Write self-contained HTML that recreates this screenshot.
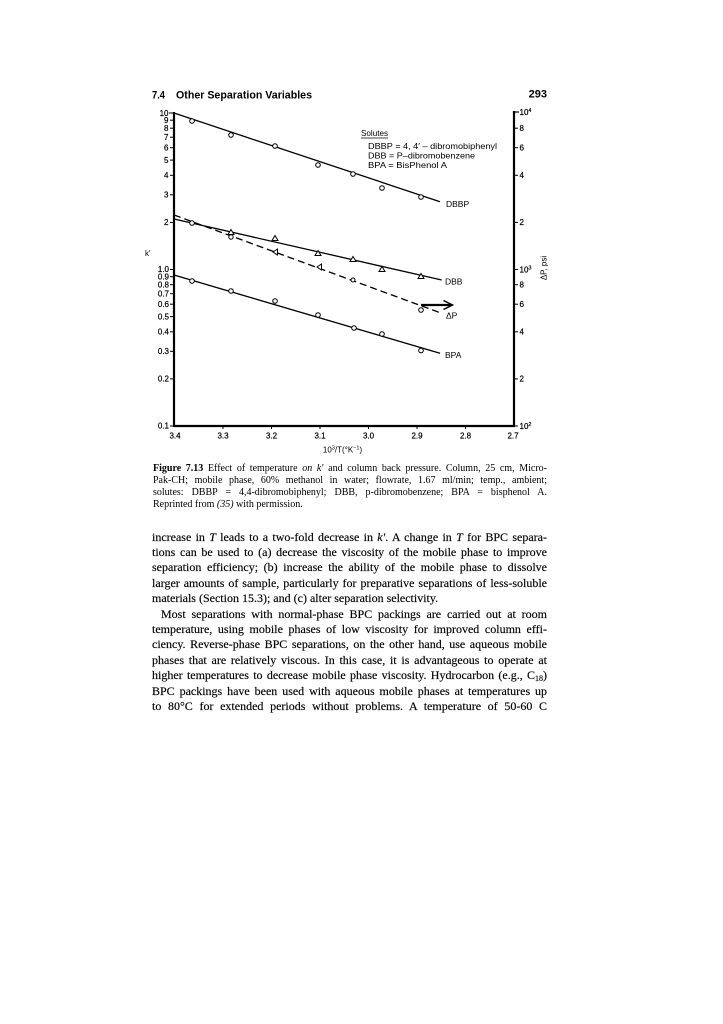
<!DOCTYPE html>
<html>
<head>
<meta charset="utf-8">
<style>
  html,body{margin:0;padding:0;background:#fff;}
  body{width:723px;height:1024px;position:relative;overflow:hidden;}
  .cap{position:absolute;left:153px;width:394px;font-family:"Liberation Serif","Times New Roman",serif;font-size:10px;line-height:12px;color:#000;}
  .cap div{text-align:justify;text-align-last:justify;height:12px;overflow:hidden;white-space:normal;}
  .cap div.last{text-align-last:left;}
  .body{position:absolute;left:152px;width:395px;top:529.5px;font-family:"Liberation Serif","Times New Roman",serif;font-size:12px;line-height:15.43px;color:#000;-webkit-text-stroke:0.15px #000;}
  .body div{text-align:justify;text-align-last:justify;height:15.43px;overflow:hidden;}
  .body div.last{text-align-last:left;}
  .body div.ind{text-indent:9px;}
  sub{font-size:8px;line-height:0;vertical-align:-2px;}
</style>
</head>
<body>
<svg width="723" height="470" style="position:absolute;left:0;top:0" font-family="Liberation Sans, Arial, sans-serif" fill="#000">
  <!-- header -->
  <text x="152" y="98.5" font-size="10.8" font-weight="bold" textLength="13" lengthAdjust="spacingAndGlyphs">7.4</text>
  <text x="176" y="98.5" font-size="10.8" font-weight="bold" textLength="136" lengthAdjust="spacingAndGlyphs">Other Separation Variables</text>
  <text x="547" y="97.5" font-size="11" font-weight="bold" text-anchor="end">293</text>

  <!-- axes -->
  <g stroke="#000" fill="none">
    <line x1="174" y1="112" x2="174" y2="427" stroke-width="2.2"/>
    <line x1="173" y1="426" x2="515" y2="426" stroke-width="2.2"/>
    <line x1="514" y1="111" x2="514" y2="427" stroke-width="2.2"/>
    <line x1="514" y1="112" x2="519" y2="112" stroke-width="1.2"/>
    <!-- left ticks -->
    <g stroke-width="1">
      <line x1="169" y1="113" x2="174" y2="113"/>
      <line x1="170" y1="120.2" x2="174" y2="120.2"/>
      <line x1="170" y1="128.2" x2="174" y2="128.2"/>
      <line x1="170" y1="137.2" x2="174" y2="137.2"/>
      <line x1="170" y1="147.7" x2="174" y2="147.7"/>
      <line x1="170" y1="160.1" x2="174" y2="160.1"/>
      <line x1="170" y1="175.3" x2="174" y2="175.3"/>
      <line x1="170" y1="194.8" x2="174" y2="194.8"/>
      <line x1="170" y1="222.4" x2="174" y2="222.4"/>
      <line x1="170" y1="269.5" x2="174" y2="269.5"/>
      <line x1="170" y1="276.7" x2="174" y2="276.7"/>
      <line x1="170" y1="284.7" x2="174" y2="284.7"/>
      <line x1="170" y1="293.7" x2="174" y2="293.7"/>
      <line x1="170" y1="304.2" x2="174" y2="304.2"/>
      <line x1="170" y1="316.6" x2="174" y2="316.6"/>
      <line x1="170" y1="331.8" x2="174" y2="331.8"/>
      <line x1="170" y1="351.3" x2="174" y2="351.3"/>
      <line x1="170" y1="378.9" x2="174" y2="378.9"/>
      <line x1="170" y1="426" x2="174" y2="426"/>
    </g>
    <!-- right ticks -->
    <g stroke-width="1">
      <line x1="514" y1="128.2" x2="518" y2="128.2"/>
      <line x1="514" y1="147.7" x2="518" y2="147.7"/>
      <line x1="514" y1="175.3" x2="518" y2="175.3"/>
      <line x1="514" y1="222.4" x2="518" y2="222.4"/>
      <line x1="514" y1="269.5" x2="518" y2="269.5"/>
      <line x1="514" y1="284.7" x2="518" y2="284.7"/>
      <line x1="514" y1="304.2" x2="518" y2="304.2"/>
      <line x1="514" y1="331.8" x2="518" y2="331.8"/>
      <line x1="514" y1="378.9" x2="518" y2="378.9"/>
      <line x1="514" y1="426" x2="518" y2="426"/>
    </g>
    <!-- bottom ticks -->
    <g stroke-width="1">
      <line x1="223" y1="426" x2="223" y2="429"/>
      <line x1="271.5" y1="426" x2="271.5" y2="429"/>
      <line x1="320" y1="426" x2="320" y2="429"/>
      <line x1="368.5" y1="426" x2="368.5" y2="429"/>
      <line x1="417" y1="426" x2="417" y2="429"/>
      <line x1="465.5" y1="426" x2="465.5" y2="429"/>
    </g>
  </g>

  <!-- left tick labels -->
  <g font-size="8" text-anchor="end" stroke="#000" stroke-width="0.2">
    <text x="168.5" y="116">10</text>
    <text x="168.5" y="123">9</text>
    <text x="168.5" y="131">8</text>
    <text x="168.5" y="140">7</text>
    <text x="168.5" y="150.5">6</text>
    <text x="168.5" y="163">5</text>
    <text x="168.5" y="178">4</text>
    <text x="168.5" y="197.5">3</text>
    <text x="168.5" y="225">2</text>
    <text x="169" y="272">1.0</text>
    <text x="169" y="279.5">0.9</text>
    <text x="169" y="287.5">0.8</text>
    <text x="169" y="296.5">0.7</text>
    <text x="169" y="307">0.6</text>
    <text x="169" y="319.5">0.5</text>
    <text x="169" y="334.5">0.4</text>
    <text x="169" y="354">0.3</text>
    <text x="169" y="381.5">0.2</text>
    <text x="169" y="428.5">0.1</text>
  </g>
  <text x="145" y="256" font-size="8">k'</text>

  <!-- right tick labels -->
  <g font-size="8" stroke="#000" stroke-width="0.2">
    <text x="519.5" y="115">10<tspan font-size="5.5" dy="-3">4</tspan></text>
    <text x="519.5" y="131">8</text>
    <text x="519.5" y="150.5">6</text>
    <text x="519.5" y="178">4</text>
    <text x="519.5" y="225">2</text>
    <text x="519.5" y="272.5">10<tspan font-size="5.5" dy="-3">3</tspan></text>
    <text x="519.5" y="287.5">8</text>
    <text x="519.5" y="307">6</text>
    <text x="519.5" y="334.5">4</text>
    <text x="519.5" y="381.5">2</text>
    <text x="519.5" y="429">10<tspan font-size="5.5" dy="-3">2</tspan></text>
  </g>
  <text transform="translate(546.5,268) rotate(-90)" font-size="8" text-anchor="middle">ΔP, psi</text>

  <!-- bottom tick labels -->
  <g font-size="8" text-anchor="middle" stroke="#000" stroke-width="0.2">
    <text x="175" y="438.5">3.4</text>
    <text x="223" y="438.5">3.3</text>
    <text x="271.5" y="438.5">3.2</text>
    <text x="320" y="438.5">3.1</text>
    <text x="368.5" y="438.5">3.0</text>
    <text x="417" y="438.5">2.9</text>
    <text x="465.5" y="438.5">2.8</text>
    <text x="513" y="438.5">2.7</text>
  </g>
  <text x="342.5" y="452.5" font-size="8" text-anchor="middle">10<tspan font-size="5.5" dy="-3">3</tspan><tspan dy="3">/T(°K</tspan><tspan font-size="5.5" dy="-3">−1</tspan><tspan dy="3">)</tspan></text>

  <!-- legend -->
  <text x="361" y="136" font-size="8.3" textLength="27" lengthAdjust="spacingAndGlyphs">Solutes</text>
  <line x1="361" y1="138" x2="388" y2="138" stroke="#000" stroke-width="0.8"/>
  <text x="368" y="149" font-size="8.3" textLength="129" lengthAdjust="spacingAndGlyphs">DBBP = 4, 4′ – dibromobiphenyl</text>
  <text x="368" y="158.5" font-size="8.3" textLength="107" lengthAdjust="spacingAndGlyphs">DBB = P–dibromobenzene</text>
  <text x="368" y="168" font-size="8.3" textLength="79" lengthAdjust="spacingAndGlyphs">BPA = BisPhenol A</text>

  <!-- series lines -->
  <g stroke="#000" fill="none" stroke-width="1.3">
    <line x1="174" y1="113" x2="440" y2="201.7"/>
    <line x1="174" y1="219" x2="441.7" y2="280"/>
    <line x1="174" y1="215" x2="441.7" y2="313.3" stroke-dasharray="7,4"/>
    <line x1="174" y1="275" x2="440" y2="353.3"/>
    <!-- arrow -->
    <line x1="421" y1="305" x2="451" y2="305" stroke-width="2.2"/>
    <polyline points="443.5,300.5 452.5,305 443.5,309.5" stroke-width="1.5"/>
  </g>

  <!-- markers -->
  <g stroke="#000" fill="#fff" stroke-width="1">
    <!-- DBBP -->
    <circle cx="192" cy="121" r="2.3"/>
    <circle cx="231" cy="135" r="2.3"/>
    <circle cx="275" cy="146" r="2.3"/>
    <circle cx="318" cy="165" r="2.3"/>
    <circle cx="353" cy="174" r="2.3"/>
    <circle cx="382" cy="188" r="2.3"/>
    <circle cx="421" cy="197" r="2.3"/>
    <!-- DBB -->
    <circle cx="192" cy="223" r="2.3"/>
    <polygon points="231,229.5 234,234.5 228,234.5"/>
    <polygon points="275,235.5 278,240.5 272,240.5"/>
    <polygon points="318,250.5 321,255.5 315,255.5"/>
    <polygon points="353,256.5 356,261.5 350,261.5"/>
    <polygon points="382,266.5 385,271.5 379,271.5"/>
    <polygon points="421,273.5 424,278.5 418,278.5"/>
    <!-- dP -->
    <circle cx="231" cy="237" r="2.2"/>
    <polygon points="273,252 277.5,249 277.5,255"/>
    <polygon points="317,267 321.5,264 321.5,270"/>
    <circle cx="353" cy="280" r="2"/>
    <circle cx="421" cy="310" r="2.3"/>
    <!-- BPA -->
    <circle cx="192" cy="281" r="2.3"/>
    <circle cx="231" cy="291" r="2.3"/>
    <circle cx="275" cy="301" r="2.3"/>
    <circle cx="318" cy="315" r="2.3"/>
    <circle cx="354" cy="328" r="2.3"/>
    <circle cx="382" cy="334" r="2.3"/>
    <circle cx="421" cy="350.5" r="2.3"/>
  </g>

  <!-- series labels -->
  <g font-size="8.5">
    <text x="446" y="207">DBBP</text>
    <text x="445" y="284.5">DBB</text>
    <text x="446" y="318.5">ΔP</text>
    <text x="445" y="358">BPA</text>
  </g>
</svg>

<div class="cap" style="top:462.6px;">
  <div><b>Figure 7.13</b> Effect of temperature <i>on k′</i> and column back pressure. Column, 25 cm, Micro-</div>
  <div>Pak-CH; mobile phase, 60% methanol in water; flowrate, 1.67 ml/min; temp., ambient;</div>
  <div>solutes: DBBP = 4,4-dibromobiphenyl; DBB, p-dibromobenzene; BPA = bisphenol A.</div>
  <div class="last">Reprinted from <i>(35)</i> with permission.</div>
</div>

<div class="body">
  <div>increase in <i>T</i> leads to a two-fold decrease in <i>k′</i>. A change in <i>T</i> for BPC separa-</div>
  <div>tions can be used to (a) decrease the viscosity of the mobile phase to improve</div>
  <div>separation efficiency; (b) increase the ability of the mobile phase to dissolve</div>
  <div>larger amounts of sample, particularly for preparative separations of less-soluble</div>
  <div class="last">materials (Section 15.3); and (c) alter separation selectivity.</div>
  <div class="ind">Most separations with normal-phase BPC packings are carried out at room</div>
  <div>temperature, using mobile phases of low viscosity for improved column effi-</div>
  <div>ciency. Reverse-phase BPC separations, on the other hand, use aqueous mobile</div>
  <div>phases that are relatively viscous. In this case, it is advantageous to operate at</div>
  <div>higher temperatures to decrease mobile phase viscosity. Hydrocarbon (e.g., C<sub>18</sub>)</div>
  <div>BPC packings have been used with aqueous mobile phases at temperatures up</div>
  <div>to 80°C for extended periods without problems. A temperature of 50-60 C</div>
</div>
</body>
</html>
